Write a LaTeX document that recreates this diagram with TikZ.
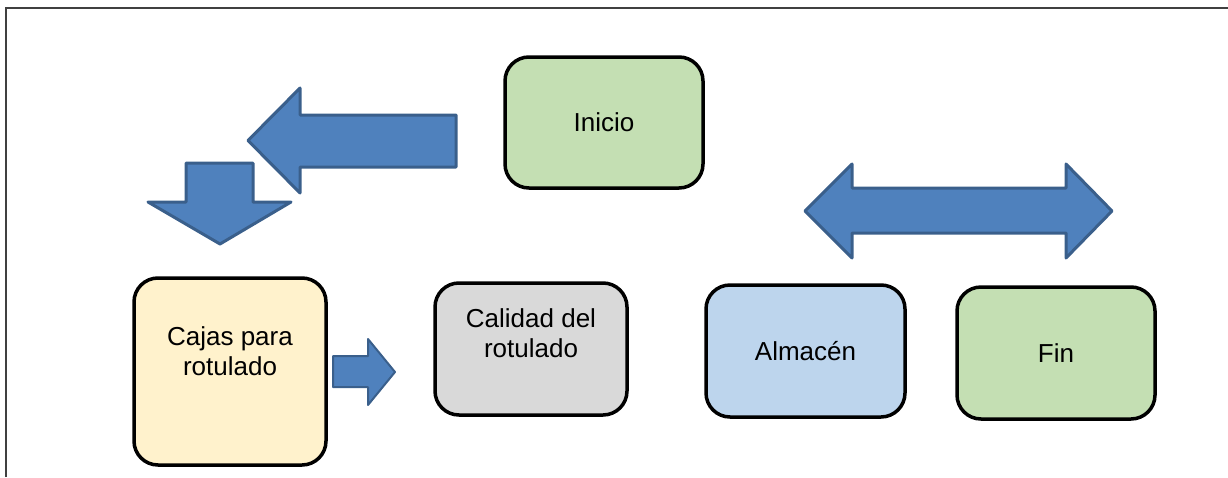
\documentclass[tikz,border=0pt]{standalone}
\usepackage{fontspec}
\setmainfont{Liberation Sans}
\definecolor{arrowfill}{HTML}{4F81BD}
\definecolor{arrowline}{HTML}{3A5F8B}
\definecolor{boxgreen}{HTML}{C4DFB3}
\definecolor{boxblue}{HTML}{BDD5ED}
\definecolor{boxyellow}{HTML}{FFF2CC}
\definecolor{boxgrey}{HTML}{D9D9D9}
\definecolor{framegrey}{HTML}{404040}
\begin{document}
\begin{tikzpicture}[x=1pt,y=-1pt,
  procbox/.style={draw=black, line width=3.5pt, rounded corners=24pt, inner sep=0pt},
  boxtext/.style={font=\fontsize{26}{30}\selectfont, align=center, inner sep=0pt},
  blockarrow/.style={fill=arrowfill, draw=arrowline, line width=3pt, line join=round}]
\useasboundingbox (0,0) rectangle (1228,477);
% frame
\draw[framegrey, line width=2pt] (6,477) -- (6,8) -- (1228,8);
% boxes
\node[procbox, fill=boxgreen, minimum width=198pt, minimum height=131pt] (inicio) at (604,122.5) {};
\node[boxtext] (inicio-t) at (inicio.center) {Inicio};
\node[procbox, fill=boxyellow, minimum width=192pt, minimum height=187pt] (cajas) at (230,371.5) {};
\node[boxtext] (cajas-t) at (230,351) {Cajas para\\rotulado};
\node[procbox, fill=boxgrey, minimum width=192pt, minimum height=132pt] (calidad) at (531,349) {};
\node[boxtext] (calidad-t) at (531,333) {Calidad del\\rotulado};
\node[procbox, fill=boxblue, minimum width=199pt, minimum height=132pt] (almacen) at (805.5,351) {};
\node[boxtext] (almacen-t) at (almacen.center) {Almacén};
\node[procbox, fill=boxgreen, minimum width=198pt, minimum height=132pt] (fin) at (1056,353) {};
\node[boxtext] (fin-t) at (fin.center) {Fin};
% block arrows
\draw[blockarrow] (456,115) -- (300,115) -- (300,88) -- (248,140.5) -- (300,193) -- (300,167) -- (456,167) -- cycle;
\draw[blockarrow] (186,163) -- (253,163) -- (253,202) -- (291,202) -- (220,244) -- (148,202) -- (186,202) -- cycle;
\draw[blockarrow, line width=2pt] (333,356) -- (368,356) -- (368,339) -- (395,372) -- (368,405) -- (368,387) -- (333,387) -- cycle;
\draw[blockarrow] (805,211) -- (852,164) -- (852,188) -- (1066,188) -- (1066,164) -- (1112,211) -- (1066,258) -- (1066,233) -- (852,233) -- (852,258) -- cycle;
\end{tikzpicture}
\end{document}
